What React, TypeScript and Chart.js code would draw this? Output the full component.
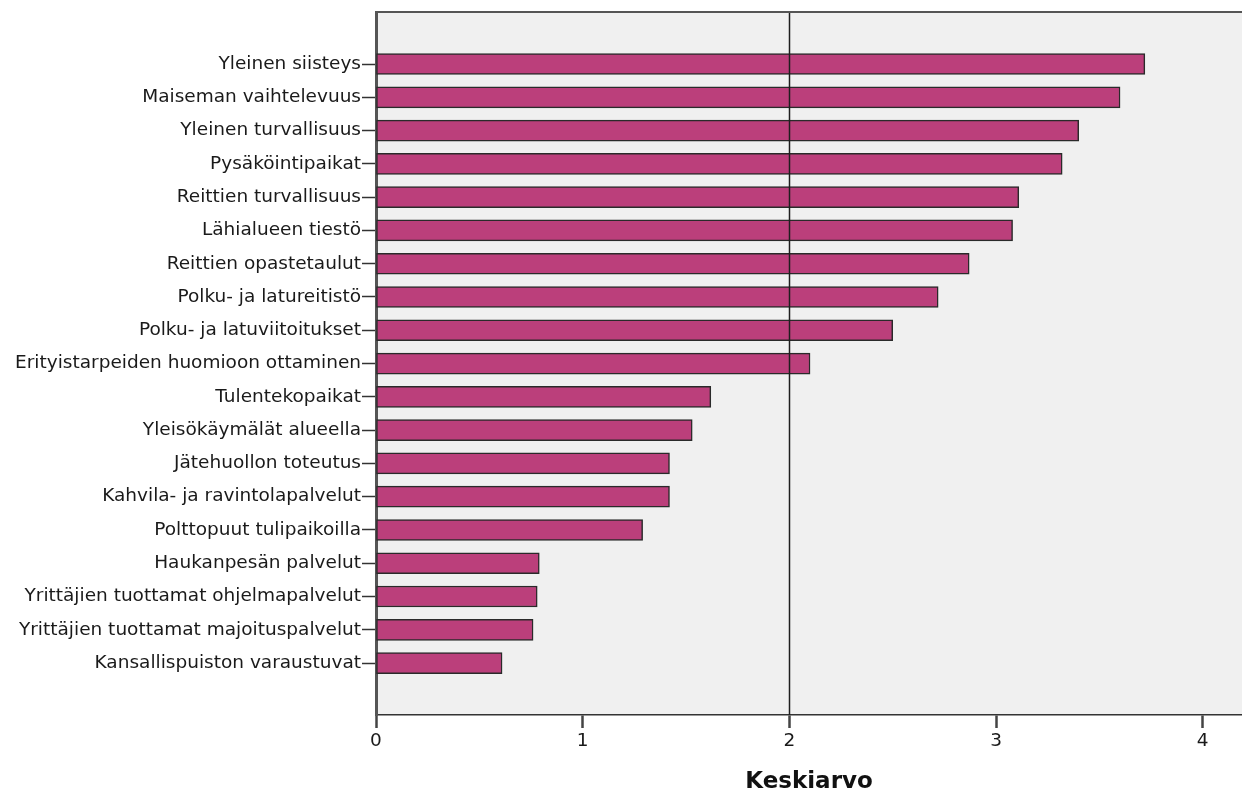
import React, { useEffect, useRef } from "react";
import { Chart, registerables } from "chart.js";

Chart.register(...registerables);

const categories: string[] = [
  "Yleinen siisteys",
  "Maiseman vaihtelevuus",
  "Yleinen turvallisuus",
  "Pysäköintipaikat",
  "Reittien turvallisuus",
  "Lähialueen tiestö",
  "Reittien opastetaulut",
  "Polku- ja latureitistö",
  "Polku- ja latuviitoitukset",
  "Erityistarpeiden huomioon ottaminen",
  "Tulentekopaikat",
  "Yleisökäymälät alueella",
  "Jätehuollon toteutus",
  "Kahvila- ja ravintolapalvelut",
  "Polttopuut tulipaikoilla",
  "Haukanpesän palvelut",
  "Yrittäjien tuottamat ohjelmapalvelut",
  "Yrittäjien tuottamat majoituspalvelut",
  "Kansallispuiston varaustuvat",
];

const meanValues: number[] = [
  3.72, 3.6, 3.4, 3.32, 3.11, 3.08, 2.87, 2.72, 2.5, 2.1, 1.62, 1.53, 1.42,
  1.42, 1.29, 0.79, 0.78, 0.76, 0.61,
];

const xTickValues: number[] = [0, 1, 2, 3, 4];
const referenceValue = 2;
const axisTitle = "Keskiarvo";

const FONT = "'DejaVu Sans', sans-serif";

export default function App() {
  const canvasRef = useRef<HTMLCanvasElement | null>(null);

  useEffect(() => {
    const canvas = canvasRef.current;
    if (!canvas) return;

    const bgPlugin = {
      id: "plotBg",
      beforeDraw(chart: any) {
        const { ctx, chartArea } = chart;
        ctx.save();
        ctx.fillStyle = "#f0f0f0";
        ctx.fillRect(
          chartArea.left,
          chartArea.top,
          chartArea.right - chartArea.left,
          chartArea.bottom - chartArea.top
        );
        ctx.restore();
      },
      afterDatasetsDraw(chart: any) {
        const { ctx, chartArea } = chart;
        const xs = chart.scales.x;
        const px = Math.round(xs.getPixelForValue(referenceValue)) + 0.5;
        ctx.save();
        ctx.strokeStyle = "#1e1e1e";
        ctx.lineWidth = 1.5;
        ctx.beginPath();
        ctx.moveTo(px, chartArea.top);
        ctx.lineTo(px, chartArea.bottom);
        ctx.stroke();
        ctx.strokeStyle = "#555555";
        ctx.lineWidth = 2;
        ctx.beginPath();
        ctx.moveTo(chartArea.left, chartArea.top);
        ctx.lineTo(chartArea.right, chartArea.top);
        ctx.stroke();
        ctx.restore();
      },
    };

    const chart = new Chart(canvas, {
      type: "bar",
      data: {
        datasets: [
          {
            data: categories.map((_, i) => ({ x: meanValues[i], y: i })) as any,
            backgroundColor: "#bb3f7b",
            borderColor: "#2a2a2a",
            borderWidth: 1.5,
            borderSkipped: false,
            barThickness: 21,
          },
        ],
      },
      options: {
        indexAxis: "y",
        responsive: false,
        animation: false,
        layout: { padding: { left: 0, right: 0, top: 10, bottom: 0 } },
        plugins: {
          legend: { display: false },
          tooltip: { enabled: false },
        },
        scales: {
          x: {
            type: "linear",
            min: 0,
            max: 4.19,
            afterBuildTicks(scale: any) {
              scale.ticks = xTickValues.map((v) => ({ value: v }));
            },
            afterFit(scale: any) {
              scale.height = 85;
            },
            ticks: {
              font: { family: FONT, size: 18.5 },
              color: "#1a1a1a",
              padding: 2,
            },
            grid: {
              drawOnChartArea: false,
              drawTicks: true,
              tickLength: 13,
              tickColor: "#444444",
              tickWidth: 2.5,
            },
            border: { color: "#333333", width: 1.5 },
            title: {
              display: true,
              text: axisTitle,
              font: { family: FONT, size: 23, weight: "bold" },
              color: "#111111",
              padding: { top: 0, bottom: 4 },
            },
          },
          y: {
            type: "linear",
            reverse: true,
            offset: false,
            min: -1.56,
            max: 19.56,
            afterBuildTicks(scale: any) {
              scale.ticks = categories.map((_, i) => ({ value: i }));
            },
            afterFit(scale: any) {
              scale.width = 376;
            },
            ticks: {
              autoSkip: false,
              font: { family: FONT, size: 18.5 },
              color: "#1a1a1a",
              padding: 1,
              callback: (v: any) => categories[v as number] ?? "",
            },
            grid: {
              offset: false,
              drawOnChartArea: false,
              drawTicks: true,
              tickLength: 14,
              tickColor: "#333333",
              tickWidth: 1.5,
            },
            border: { color: "#555555", width: 3 },
          },
        },
      },
      plugins: [bgPlugin],
    });

    return () => chart.destroy();
  }, []);

  return (
    <div style={{ position: "absolute", left: 0, top: 0, width: 1242, height: 800, background: "#ffffff" }}>
      <canvas ref={canvasRef} width={1242} height={800} style={{ display: "block" }} />
    </div>
  );
}
